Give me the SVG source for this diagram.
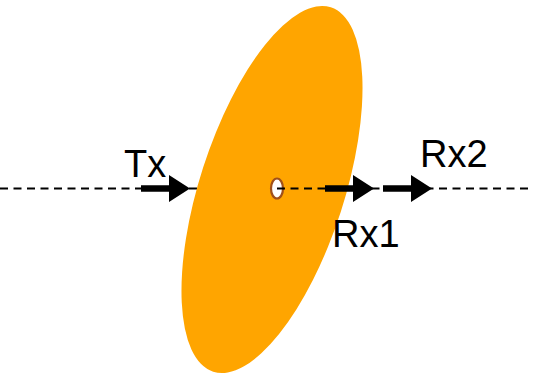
<svg xmlns="http://www.w3.org/2000/svg" width="533" height="375" viewBox="0 0 533 375">
  <style>
    .dash { stroke: #000; stroke-width: 2; stroke-dasharray: 8 5.5; fill: none; }
    .lbl { font-family: "Liberation Sans", Arial, sans-serif; font-size: 38px; fill: #000; }
  </style>
  <defs>
    <path id="arr" d="M0,-3.25 H28 V-13.5 L49,0 L28,13.5 V3.25 H0 Z" fill="#000"/>
  </defs>
  <g id="axis">
    <line class="dash" x1="0" y1="188.5" x2="277" y2="188.5"/>
  </g>
  <g id="disk">
    <ellipse cx="272" cy="189.5" rx="72.3" ry="191.4" transform="rotate(17.9 272 189.5)" fill="#FFA500"/>
  </g>
  <g id="connectors">
    <line class="dash" x1="277" y1="188.5" x2="533" y2="188.5"/>
    <use href="#arr" transform="translate(141 188.5)"/>
    <use href="#arr" transform="translate(325 188.5)"/>
    <use href="#arr" transform="translate(383 188.5)"/>
  </g>
  <g id="origin">
    <ellipse cx="277" cy="188.5" rx="6" ry="10" fill="#fff" stroke="#A0501A" stroke-width="2.2"/>
    <line x1="277" y1="188.5" x2="284" y2="188.5" stroke="#000" stroke-width="2"/>
  </g>
  <g id="tx"><text class="lbl" x="124" y="177">Tx</text></g>
  <g id="rx1"><text class="lbl" x="332" y="247">Rx1</text></g>
  <g id="rx2"><text class="lbl" x="420" y="167">Rx2</text></g>
</svg>
